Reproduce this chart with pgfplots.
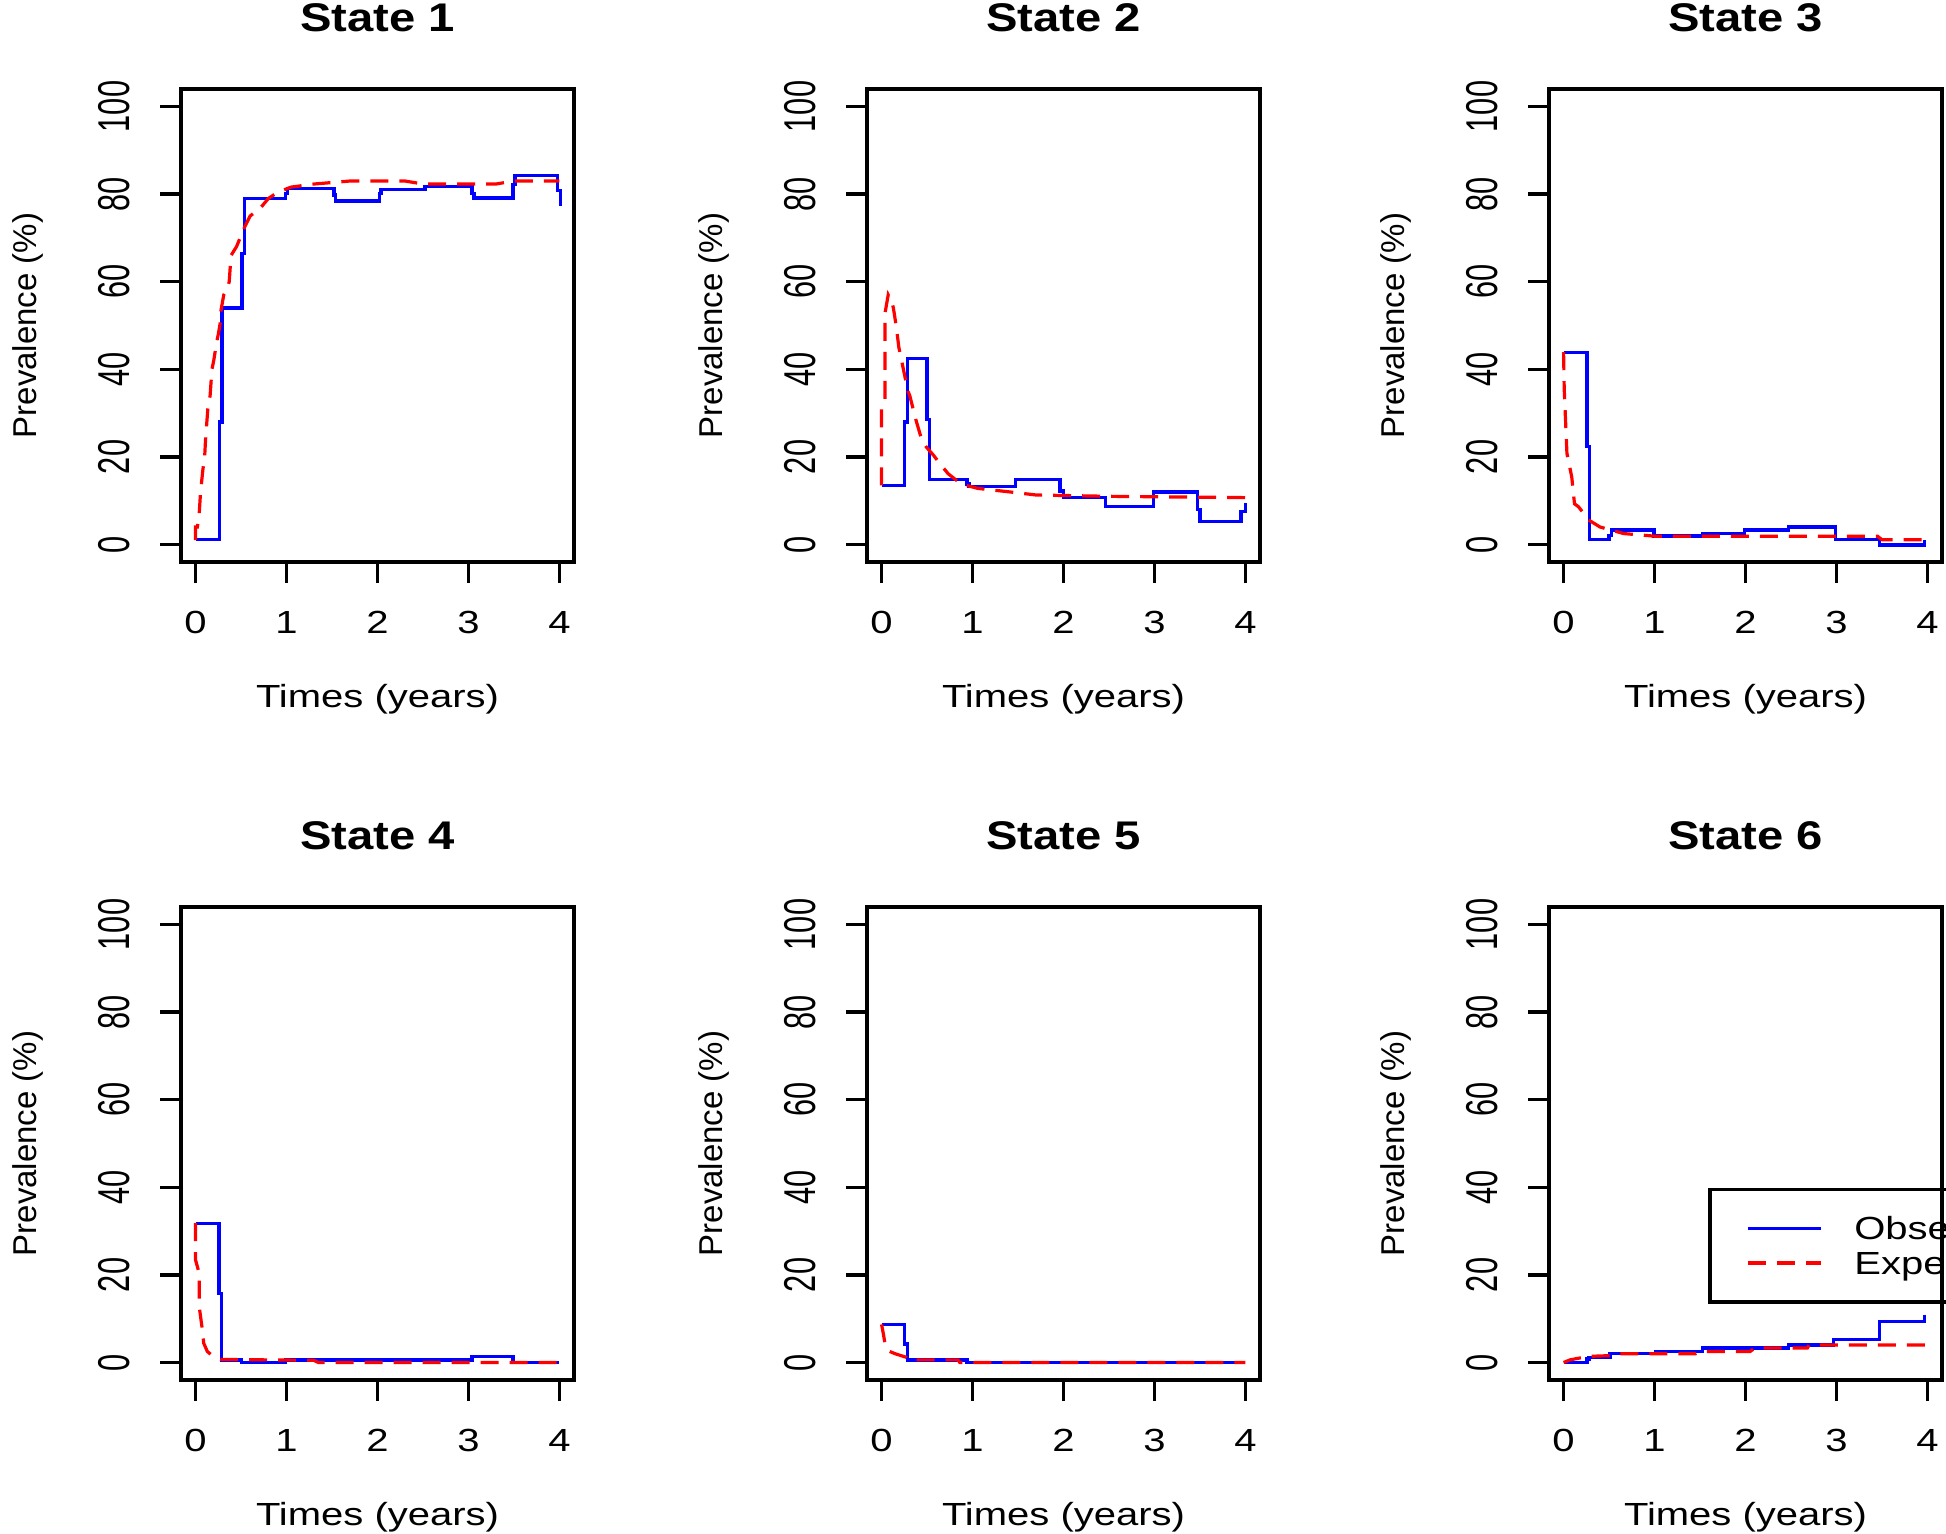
\documentclass[border=0pt]{standalone}
\usepackage{fontspec}
\usepackage{pgfplots}
\pgfplotsset{compat=1.18}
\newfontfamily\hfont[FakeStretch=1.25]{Liberation Sans}
\newfontfamily\tfontfam[FakeStretch=1.18]{Liberation Sans}
\newfontfamily\vfont{Liberation Sans}
\newfontfamily\ytfontfam[FakeStretch=0.69]{Liberation Sans}
\newcommand\xtf{\hfont\fontsize{16pt}{18pt}\selectfont}
\newcommand\ttf{\tfontfam\bfseries\fontsize{20pt}{22pt}\selectfont}
\newcommand\ylf{\vfont\fontsize{16.5pt}{18pt}\selectfont}
\newcommand\ytf{\ytfontfam\fontsize{22.3pt}{24pt}\selectfont}
\pgfplotsset{
  panel/.style={
    scale only axis, width=196.5pt, height=236.5pt, anchor=north west,
    xmin=-0.16, xmax=4.16, ymin=-4, ymax=104,
    xtick={0,1,2,3,4}, xticklabels={0,1,2,3,4},
    ytick={0,20,40,60,80,100}, yticklabels={0,20,40,60,80,100},
    xtick pos=left, ytick pos=left,
    tick align=outside, major tick length=10.5pt,
    tick style={black, line width=1.7pt},
    axis line style={line width=1.8pt},
    xticklabel style={font=\xtf, inner sep=0pt, anchor=north},
    yticklabel style={font=\ytf, inner sep=0pt, rotate=90, anchor=south},
    xticklabel shift=14pt, yticklabel shift=15pt,
    xlabel={Times (years)}, ylabel={Prevalence (\%)},
    xlabel style={font=\xtf, at={(axis description cs:0.5,0)}, anchor=north, yshift=-61pt, inner sep=0pt},
    ylabel style={font=\ylf, at={(axis description cs:-0.43,0.5)}, anchor=north, inner sep=0pt},
    title style={at={(0.5,1)}, anchor=base, yshift=23pt, font=\ttf, inner sep=0pt},
  },
  obs/.style={color={rgb,255:red,0;green,0;blue,255}, line width=1.7pt},
  expd/.style={color={rgb,255:red,255;green,0;blue,0}, line width=1.6pt, dash pattern=on 9pt off 5.5pt},
}
\begin{document}
\begin{tikzpicture}
\useasboundingbox (0pt,0pt) rectangle (973pt,-766.5pt);
\clip (0pt,0pt) rectangle (973pt,-766.5pt);

% ---------------- State 1
\begin{axis}[panel, at={(90.5pt,-44.5pt)}, title={State 1}]
\addplot[obs] coordinates {(0,1.1)(0.26,1.1)(0.26,28)(0.29,28)(0.29,54)(0.51,54)(0.51,66.4)(0.54,66.4)(0.54,79)(0.99,79)(0.99,80.1)(1.01,80.1)(1.01,81.3)(1.52,81.3)(1.52,79.8)(1.54,79.8)(1.54,78.4)(2.02,78.4)(2.02,80.2)(2.04,80.2)(2.04,81)(2.52,81)(2.52,81.7)(3.04,81.7)(3.04,80.2)(3.06,80.2)(3.06,79.1)(3.49,79.1)(3.49,82.2)(3.51,82.2)(3.51,84.3)(3.98,84.3)(3.98,80.8)(4.01,80.8)(4.01,77.4)};
\addplot[expd] coordinates {(0,1)(0,4)(0.02,4)(0.04,7)(0.055,12)(0.08,17)(0.1,20)(0.11,24)(0.135,31)(0.16,34)(0.18,40)(0.2,42)(0.23,46)(0.25,48)(0.275,51)(0.28,53.5)(0.31,57)(0.35,58.5)(0.37,60)(0.39,66)(0.45,68)(0.49,70)(0.54,72.5)(0.6,75)(0.72,77)(0.8,79)(0.9,80.4)(1.05,81.6)(1.3,82.3)(1.7,83)(2.3,83)(2.5,82.3)(3.3,82.3)(3.5,83)(4,83)};
\end{axis}

% ---------------- State 2
\begin{axis}[panel, at={(433.5pt,-44.5pt)}, title={State 2}]
\addplot[obs] coordinates {(0,13.5)(0.25,13.5)(0.25,28)(0.286,28)(0.286,42.4)(0.50,42.4)(0.50,28.5)(0.53,28.5)(0.53,14.8)(0.94,14.8)(0.94,13.8)(0.96,13.8)(0.96,13.3)(1.47,13.3)(1.47,14.8)(1.96,14.8)(1.96,12.2)(2.0,12.2)(2.0,10.7)(2.46,10.7)(2.46,8.7)(2.99,8.7)(2.99,12.0)(3.47,12.0)(3.47,8.0)(3.5,8.0)(3.5,5.3)(3.95,5.3)(3.95,7.5)(4.0,7.5)(4.0,9.5)};
\addplot[expd] coordinates {(0,13.5)(0,31)(0.037,33)(0.037,52.7)(0.073,57)(0.11,55.5)(0.13,54)(0.16,50)(0.19,45)(0.24,40)(0.29,35)(0.31,34)(0.37,29)(0.44,24)(0.49,22.3)(0.57,20.4)(0.64,18.5)(0.73,16.2)(0.82,14.7)(0.93,13.5)(1.06,12.8)(1.41,12)(1.7,11.3)(2.5,11)(4,10.7)};
\end{axis}

% ---------------- State 3
\begin{axis}[panel, at={(774.5pt,-44.5pt)}, title={State 3}]
\addplot[obs] coordinates {(0,43.9)(0.256,43.9)(0.256,22.4)(0.286,22.4)(0.286,1.1)(0.5,1.1)(0.5,2.1)(0.53,2.1)(0.53,3.3)(0.996,3.3)(0.996,1.9)(1.53,1.9)(1.53,2.5)(1.99,2.5)(1.99,3.3)(2.47,3.3)(2.47,4.0)(2.99,4.0)(2.99,1.1)(3.47,1.1)(3.47,-0.1)(3.97,-0.1)(3.97,1.0)};
\addplot[expd] coordinates {(0,43.9)(0.007,35.6)(0.037,20.8)(0.09,15.4)(0.12,9.3)(0.165,8.6)(0.22,7.1)(0.275,5.6)(0.4,4.0)(0.66,2.5)(1.0,1.9)(3.0,1.9)(3.45,1.9)(3.5,1.1)(4,1.1)};
\end{axis}

% ---------------- State 4
\begin{axis}[panel, at={(90.5pt,-453.5pt)}, title={State 4}]
\addplot[obs] coordinates {(0,31.8)(0.257,31.8)(0.257,15.8)(0.287,15.8)(0.287,0.6)(0.507,0.6)(0.507,0)(0.99,0)(0.99,0.6)(3.04,0.6)(3.04,1.4)(3.49,1.4)(3.49,0)(4,0)};
\addplot[expd] coordinates {(0,31.8)(0,23.4)(0.04,20.4)(0.04,12.8)(0.07,8.2)(0.09,4.4)(0.13,2.5)(0.2,1.3)(0.28,0.7)(1.3,0.5)(1.35,0)(4,0)};
\end{axis}

% ---------------- State 5
\begin{axis}[panel, at={(433.5pt,-453.5pt)}, title={State 5}]
\addplot[obs] coordinates {(0,8.7)(0.25,8.7)(0.25,4.2)(0.286,4.2)(0.286,0.6)(0.94,0.6)(0.94,0)(4,0)};
\addplot[expd] coordinates {(0,8.7)(0.02,6.5)(0.04,4)(0.08,2.6)(0.15,2.0)(0.27,1.2)(0.3,0.6)(0.84,0.6)(0.86,0)(4,0)};
\end{axis}

% ---------------- State 6
\begin{axis}[panel, at={(774.5pt,-453.5pt)}, title={State 6},
  legend style={at={(axis cs:1.59,39.9)}, anchor=north west, draw=black, line width=1.7pt, fill=none,
    inner xsep=18pt, inner ysep=13.6pt, font=\xtf, row sep=5.8pt, nodes={inner sep=0pt, text depth=0pt}},
  legend cell align=left,
  legend image code/.code={\draw[#1] (0pt,0pt) -- (36.5pt,0pt); \path (52.5pt,0pt);},
]
\addplot[obs] coordinates {(0,0)(0.256,0)(0.256,0.8)(0.28,0.8)(0.28,1.2)(0.51,1.2)(0.51,2.0)(1.01,2.0)(1.01,2.5)(1.53,2.5)(1.53,3.3)(2.47,3.3)(2.47,4.0)(2.97,4.0)(2.97,5.3)(3.47,5.3)(3.47,9.3)(3.97,9.3)(3.97,10.9)};
\addlegendentry{Observed}
\addplot[expd] coordinates {(0,0)(0.07,0.6)(0.27,1.4)(0.55,1.6)(0.6,2.0)(1.45,2.0)(1.5,2.5)(2.05,2.5)(2.1,3.3)(2.68,3.3)(2.7,4.0)(4,4.0)};
\addlegendentry{Expected}
\end{axis}
\end{tikzpicture}
\end{document}
